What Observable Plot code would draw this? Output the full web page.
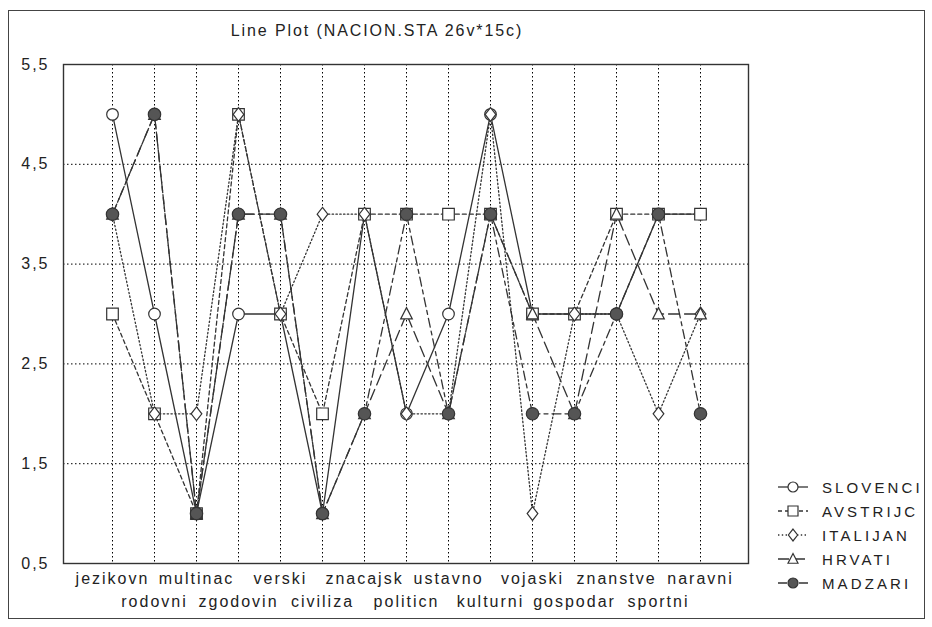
<!DOCTYPE html>
<html>
<head>
<meta charset="utf-8">
<script src="https://cdn.jsdelivr.net/npm/d3@7"></script>
<script src="https://cdn.jsdelivr.net/npm/@observablehq/plot@0.6"></script>
<style>
  html, body { margin: 0; padding: 0; background: #fff; }
  #wrap { position: relative; width: 932px; height: 627px; overflow: hidden; font-family: "Liberation Sans", Arial, sans-serif; }
  #outer { position: absolute; left: 8px; top: 10px; width: 917px; height: 609px; border: 1.5px solid #444; box-sizing: border-box; }
  #title { position: absolute; left: 127px; width: 500px; top: 22px; text-align: center; font-size: 16px; color: #222; letter-spacing: 1.9px; }
  #chart { position: absolute; left: 0; top: 0; }
  #legend { position: absolute; left: 776px; top: 475px; }
  .li { display: flex; align-items: center; height: 24px; }
  .li span { font-size: 15px; letter-spacing: 3.1px; color: #222; margin-left: 12px; }
</style>
</head>
<body>
<div id="wrap">
  <div id="outer"></div>
  <div id="title">Line Plot (NACION.STA 26v*15c)</div>
  <div id="chart"></div>
  <div id="legend"></div>
</div>
<script>
const categories = ["jezikovn","rodovni","multinac","zgodovin","verski","civiliza","znacajsk","politicn","ustavno","kulturni","vojaski","gospodar","znanstve","sportni","naravni"];
const seriesNames = ["SLOVENCI","AVSTRIJC","ITALIJAN","HRVATI","MADZARI"];
const slovenci = [5,3,1,3,3,1,4,2,3,5,3,3,3,4,4];
const avstrijc = [3,2,1,5,3,2,4,4,4,4,3,3,4,4,4];
const italijan = [4,2,2,5,3,4,4,2,2,5,1,3,3,2,3];
const hrvati   = [4,5,1,4,4,1,2,3,2,4,3,2,4,3,3];
const madzari  = [4,5,1,4,4,1,2,4,2,4,2,2,3,4,2];
const yTicks = [0.5,1.5,2.5,3.5,4.5,5.5];
const yGrid = [1.5,2.5,3.5,4.5];

// custom marker shapes
const sq = {draw(c, s){ const r = Math.sqrt(s/Math.PI); c.moveTo(-r,-r); c.lineTo(r,-r); c.lineTo(r,r); c.lineTo(-r,r); c.closePath(); }};
const dia = {draw(c, s){ const r = Math.sqrt(s/Math.PI); c.moveTo(0,-r*1.18); c.lineTo(r*0.92,0); c.lineTo(0,r*1.18); c.lineTo(-r*0.92,0); c.closePath(); }};
const tri = {draw(c, s){ const r = Math.sqrt(s/Math.PI); c.moveTo(0,-r*1.1); c.lineTo(r,r*0.85); c.lineTo(-r,r*0.85); c.closePath(); }};

const styles = [
  {values: slovenci, symbol: "circle", dash: null, fill: "white"},
  {values: avstrijc, symbol: sq, dash: "4,3", fill: "white"},
  {values: italijan, symbol: dia, dash: "1.4,2.4", fill: "white"},
  {values: hrvati, symbol: tri, dash: "11,5", fill: "white"},
  {values: madzari, symbol: "circle", dash: "9,4,4,4", fill: "#555"}
];

const rows = styles.map((s, k) => s.values.map((v, i) => ({series: seriesNames[k], cat: categories[i], value: v})));
const ink = "#333";

const marks = [
  Plot.ruleX(categories, {stroke: "#000", strokeWidth: 1, strokeDasharray: "1.5,2.5"}),
  Plot.ruleY(yGrid, {stroke: "#000", strokeWidth: 1, strokeDasharray: "1.5,2.5"}),
  Plot.frame({stroke: "#333", strokeWidth: 1.4}),
];
styles.forEach((s, k) => {
  marks.push(Plot.line(rows[k], {x: "cat", y: "value", stroke: ink, strokeWidth: 1.3, strokeDasharray: s.dash}));
});
styles.forEach((s, k) => {
  marks.push(Plot.dot(rows[k], {x: "cat", y: "value", symbol: () => s.symbol, r: k === 4 ? 6.2 : 5.8, fill: s.fill, stroke: ink, strokeWidth: 1.2}));
});
marks.push(
  Plot.axisY(yTicks, {label: null, tickSize: 0, tickPadding: 14, fontSize: 16, tickFormat: d => String(d).replace(".", ","), fill: "#222"}),
  Plot.axisX(categories.filter((_, i) => i % 2 === 0), {label: null, tickSize: 0, tickPadding: 9, fontSize: 16, fill: "#222"}),
  Plot.axisX(categories.filter((_, i) => i % 2 === 1), {label: null, tickSize: 0, tickPadding: 32, fontSize: 16, fill: "#222"})
);

const chart = Plot.plot({
  width: 932, height: 627,
  marginLeft: 63, marginRight: 184, marginTop: 64, marginBottom: 64,
  x: {type: "point", domain: categories, padding: 1, axis: null},
  y: {domain: [0.5, 5.5], axis: null},
  symbol: {type: "identity"},
  style: {fontFamily: "'Liberation Sans', Arial, sans-serif", background: "transparent", letterSpacing: "2px"},
  marks
});
document.getElementById("chart").appendChild(chart);

// legend
const leg = document.getElementById("legend");
styles.forEach((s, k) => {
  const div = document.createElement("div");
  div.className = "li";
  const svg = d3.create("svg").attr("width", 34).attr("height", 16);
  svg.append("line").attr("x1", 2).attr("x2", 32).attr("y1", 8).attr("y2", 8)
    .attr("stroke", ink).attr("stroke-width", 1.3).attr("stroke-dasharray", s.dash);
  const sym = typeof s.symbol === "string" ? d3.symbolCircle : s.symbol;
  svg.append("path").attr("transform", "translate(17,8)")
    .attr("d", d3.symbol(sym, Math.PI * 5 * 5)())
    .attr("fill", s.fill).attr("stroke", ink).attr("stroke-width", 1.2);
  div.appendChild(svg.node());
  const sp = document.createElement("span");
  sp.textContent = seriesNames[k];
  div.appendChild(sp);
  leg.appendChild(div);
});
</script>
</body>
</html>
